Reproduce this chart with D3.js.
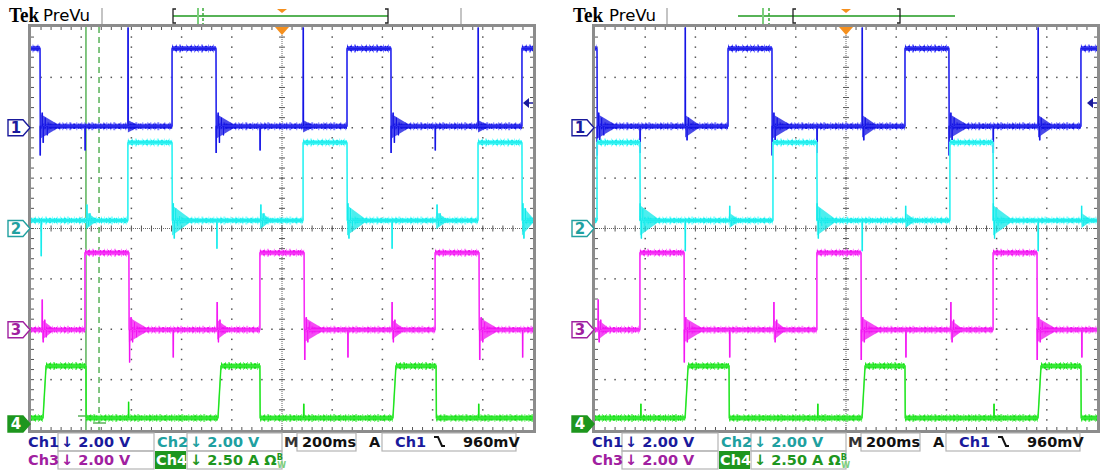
<!DOCTYPE html>
<html>
<head>
<meta charset="utf-8">
<script src="https://cdn.jsdelivr.net/npm/d3@7"></script>
<style>
body { margin: 0; background: #fff; }
svg { display: block; }
</style>
</head>
<body>
<div id="chart"></div>
<script>
// Channel settings (time in ms, 200 ms/div; levels in V, ch4 in A)
var channels = ["Ch1", "Ch2", "Ch3", "Ch4"];
var channelScale = ["2.00 V", "2.00 V", "2.00 V", "2.50 A"];
var perDiv = [2, 2, 2, 2.5];
var offsetDiv = [2.0, 0, -2.01, -3.88];
var lowLevel = [0.06, 0.32, 0, 0.3];
var highLevel = [3.15, 3.41, 3.06, 2.88];
var riseTime = [0, 0, 0, 12];
var timebase = "200ms";
var trigLevel = "960mV";

// Left capture: "on" intervals per channel
var leftOn = [
  [[-50, 36], [562, 737], [1259, 1434], [1956, 2050]],
  [[386, 562], [1084, 1259], [1781, 1956]],
  [[215, 390], [912, 1088], [1610, 1785]],
  [[48, 219], [745, 912], [1442, 1614]]
];
// Left capture: spikes [time, value]
var leftSpikes = [
  [[36, -1.1], [44, 0.6], [48, -0.6], [56, 0.4], [64, -0.3], [215, -0.9], [386, 3.98],
   [737, -1.0], [745, 0.6], [750, -0.6], [758, 0.4], [766, -0.3], [912, -0.9], [1084, 3.98],
   [1434, -1.0], [1442, 0.6], [1447, -0.6], [1455, 0.4], [1463, -0.3], [1610, -0.9], [1781, 3.98]],
  [[40, -1.1], [222, 0.95], [228, 0.1], [234, 0.6], [242, 0.2], [566, 1.0], [570, -0.4], [576, 0.8], [584, 0.1], [592, 0.5],
   [740, -0.8], [915, 0.95], [921, 0.1], [927, 0.6], [1262, 1.0], [1266, -0.4], [1272, 0.8], [1280, 0.1],
   [1438, -0.8], [1617, 0.95], [1623, 0.1], [1629, 0.6], [1959, 1.0], [1963, -0.4], [1969, 0.8]],
  [[44, 1.2], [48, -0.5], [54, 0.4], [60, -0.3], [392, -1.3], [398, 0.5], [404, -0.5], [412, 0.3], [420, -0.3],
   [566, -1.1], [741, 1.1], [746, -0.5], [752, 0.4], [1090, -1.2], [1096, 0.5], [1102, -0.5], [1110, 0.3],
   [1262, -1.1], [1438, 1.1], [1443, -0.5], [1449, 0.4], [1787, -1.2], [1793, 0.5], [1799, -0.5], [1807, 0.3], [1958, -1.1]],
  [[388, 1.1], [1086, 1.0], [1783, 1.0]]
];
// Left capture: ringing bursts [time, amplitude, duration]
var leftRing = [
  [[36, 0.5, 70], [737, 0.5, 70], [1434, 0.5, 70], [386, 0.25, 40], [1084, 0.25, 40], [1781, 0.25, 40]],
  [[562, 0.6, 70], [1259, 0.6, 70], [1956, 0.6, 44], [219, 0.35, 40], [912, 0.35, 40], [1614, 0.35, 40]],
  [[390, 0.5, 70], [1088, 0.5, 70], [1785, 0.5, 70], [44, 0.4, 44], [741, 0.4, 44], [1438, 0.4, 44]],
  []
];

// Right capture
var rightOn = [
  [[-50, 8], [530, 705], [1235, 1410], [1936, 2050]],
  [[8, 179], [709, 884], [1414, 1586]],
  [[179, 355], [884, 1060], [1586, 1761]],
  [[359, 534], [1064, 1235], [1765, 1936]]
];
var rightSpikes = [
  [[8, -1.1], [14, 0.6], [18, -0.6], [26, 0.4], [34, -0.3], [179, -1.0], [359, 3.98], [366, -0.5], [372, 0.4],
   [705, -1.1], [712, 0.6], [717, -0.6], [725, 0.4], [884, -1.0], [1064, 3.98], [1070, -0.5], [1076, 0.4],
   [1410, -1.1], [1417, 0.6], [1422, -0.6], [1430, 0.4], [1586, -1.0], [1765, 3.98], [1771, -0.5], [1777, 0.4]],
  [[179, 1.0], [184, -0.4], [190, 0.8], [198, 0.1], [359, -0.9], [536, 0.9], [542, 0.1],
   [884, 1.0], [889, -0.4], [895, 0.8], [903, 0.1], [1064, -0.9], [1237, 0.9], [1243, 0.1],
   [1586, 1.0], [1591, -0.4], [1597, 0.8], [1605, 0.1], [1765, -0.9], [1938, 0.9], [1944, 0.1]],
  [[12, 1.2], [16, -0.5], [22, 0.4], [355, -1.3], [361, 0.5], [367, -0.5], [375, 0.3], [536, -1.1],
   [712, 1.1], [717, -0.5], [723, 0.4], [1060, -1.2], [1066, 0.5], [1072, -0.5], [1080, 0.3], [1238, -1.1],
   [1417, 1.1], [1422, -0.5], [1428, 0.4], [1761, -1.2], [1767, 0.5], [1773, -0.5], [1781, 0.3], [1939, -1.1]],
  [[182, 1.0], [887, 1.0], [1589, 1.0]]
];
var rightRing = [
  [[8, 0.5, 70], [705, 0.5, 70], [1410, 0.5, 70], [359, 0.45, 55], [1064, 0.45, 55], [1765, 0.45, 55]],
  [[179, 0.6, 70], [884, 0.6, 70], [1586, 0.6, 70], [536, 0.3, 36], [1237, 0.3, 36], [1938, 0.3, 36]],
  [[355, 0.5, 70], [1060, 0.5, 70], [1761, 0.5, 70], [12, 0.4, 44], [712, 0.4, 44], [1417, 0.4, 44]],
  []
];

var traceColor = ["#1010e0", "#10e8e8", "#f010f0", "#10e010"];
var edgeColor = ["#6060ff", "#70ffff", "#ff70ff", "#60f060"];
var labelColor = ["#1a1a9c", "#20a0a0", "#a020a0", "#1e961e"];

var W = 1103, H = 473;
var svg = d3.select("#chart").append("svg").attr("width", W).attr("height", H)
  .style("font-family", "'DejaVu Sans', sans-serif");

var screens = [
  { x0: 31, on: leftOn, spikes: leftSpikes, ring: leftRing, tek: 9, prevu: 43, sep: [102, 461],
    bar: [173, 388], barLine: [173, 388], marks: [198, 203], cursors: true },
  { x0: 595, on: rightOn, spikes: rightSpikes, ring: rightRing, tek: 573, prevu: 609, sep: [667],
    bar: [793, 900], barLine: [738, 955], marks: [763, 769], cursors: false }
];

var plotW = 502, y0 = 27, y1 = 430;

screens.forEach(function (s, si) {
  var g = svg.append("g");
  var x = d3.scaleLinear().domain([0, 2000]).range([s.x0, s.x0 + plotW]);
  var yDiv = d3.scaleLinear().domain([-4, 4]).range([y1, y0]);
  var dx = plotW / 10, dy = (y1 - y0) / 8;

  // top bar
  g.append("text").attr("x", s.tek).attr("y", 22).text("Tek")
    .attr("textLength", 30).attr("lengthAdjust", "spacingAndGlyphs")
    .style("font-family", "'Liberation Serif', serif").style("font-weight", "bold")
    .style("font-size", "20px").attr("fill", "#000");
  g.append("text").attr("x", s.prevu).attr("y", 21).text("PreVu")
    .attr("textLength", 47).attr("lengthAdjust", "spacingAndGlyphs")
    .style("font-size", "16px").attr("fill", "#000");
  s.sep.forEach(function (sx) {
    g.append("line").attr("x1", sx).attr("x2", sx).attr("y1", 8).attr("y2", 25)
      .attr("stroke", "#c4c4c4").attr("stroke-width", 2);
  });
  g.append("line").attr("x1", s.barLine[0]).attr("x2", s.barLine[1]).attr("y1", 16).attr("y2", 16)
    .attr("stroke", "#1f9a1f").attr("stroke-width", 1.5);
  g.append("path").attr("d", "M" + (s.bar[0] + 3) + ",9 h-3 v14 h3").attr("fill", "none")
    .attr("stroke", "#222").attr("stroke-width", 1.3);
  g.append("path").attr("d", "M" + (s.bar[1] - 3) + ",9 h3 v14 h-3").attr("fill", "none")
    .attr("stroke", "#222").attr("stroke-width", 1.3);
  g.append("line").attr("x1", s.marks[0]).attr("x2", s.marks[0]).attr("y1", 8).attr("y2", 24)
    .attr("stroke", "#7ccf7c").attr("stroke-width", 2);
  g.append("line").attr("x1", s.marks[1]).attr("x2", s.marks[1]).attr("y1", 8).attr("y2", 24)
    .attr("stroke", "#3aaa3a").attr("stroke-width", 1.5).attr("stroke-dasharray", "3,2");
  var tx = x(1000);
  g.append("path").attr("d", "M" + (tx - 5) + ",9 L" + (tx + 5) + ",9 L" + tx + ",13 Z").attr("fill", "#f5901e");

  // graticule
  var grid = g.append("g");
  grid.append("rect").attr("x", s.x0 - 1.5).attr("y", y0 - 1.5).attr("width", plotW + 3).attr("height", y1 - y0 + 3)
    .attr("fill", "none").attr("stroke", "#8c8c8c").attr("stroke-width", 3);
  var i, k;
  for (i = 1; i < 10; i++) {
    if (i === 5) continue;
    for (k = 1; k < 40; k++) {
      grid.append("rect").attr("x", s.x0 + i * dx - 0.75).attr("y", y0 + k * dy / 5 - 0.75)
        .attr("width", 1.5).attr("height", 1.5).attr("fill", "#555");
    }
  }
  for (i = 1; i < 8; i++) {
    if (i === 4) continue;
    for (k = 1; k < 50; k++) {
      grid.append("rect").attr("x", s.x0 + k * dx / 5 - 0.75).attr("y", y0 + i * dy - 0.75)
        .attr("width", 1.5).attr("height", 1.5).attr("fill", "#555");
    }
  }
  // center lines with ticks
  var cx = s.x0 + 5 * dx, cy = y0 + 4 * dy;
  grid.append("line").attr("x1", cx).attr("x2", cx).attr("y1", y0).attr("y2", y1)
    .attr("stroke", "#666").attr("stroke-width", 1).attr("stroke-dasharray", "1,1");
  grid.append("line").attr("x1", s.x0).attr("x2", s.x0 + plotW).attr("y1", cy).attr("y2", cy)
    .attr("stroke", "#666").attr("stroke-width", 1).attr("stroke-dasharray", "1,1");
  for (k = 1; k < 40; k++) {
    grid.append("line").attr("x1", cx - 3).attr("x2", cx + 3).attr("y1", y0 + k * dy / 5).attr("y2", y0 + k * dy / 5)
      .attr("stroke", "#555").attr("stroke-width", 1);
  }
  for (k = 1; k < 50; k++) {
    grid.append("line").attr("x1", s.x0 + k * dx / 5).attr("x2", s.x0 + k * dx / 5).attr("y1", cy - 3).attr("y2", cy + 3)
      .attr("stroke", "#555").attr("stroke-width", 1);
  }
  // edge ticks
  for (k = 1; k < 50; k++) {
    var ex = s.x0 + k * dx / 5;
    grid.append("line").attr("x1", ex).attr("x2", ex).attr("y1", y0).attr("y2", y0 + 3).attr("stroke", "#555");
    grid.append("line").attr("x1", ex).attr("x2", ex).attr("y1", y1 - 3).attr("y2", y1).attr("stroke", "#555");
  }
  for (k = 1; k < 40; k++) {
    var ey = y0 + k * dy / 5;
    grid.append("line").attr("x1", s.x0).attr("x2", s.x0 + 3).attr("y1", ey).attr("y2", ey).attr("stroke", "#555");
    grid.append("line").attr("x1", s.x0 + plotW - 3).attr("x2", s.x0 + plotW).attr("y1", ey).attr("y2", ey).attr("stroke", "#555");
  }

  // clip
  var clipId = "clip" + si;
  g.append("clipPath").attr("id", clipId).append("rect")
    .attr("x", s.x0).attr("y", y0).attr("width", plotW).attr("height", y1 - y0);
  var plot = g.append("g").attr("clip-path", "url(#" + clipId + ")");

  // cursors (left capture)
  if (s.cursors) {
    plot.append("line").attr("x1", x(219)).attr("x2", x(219)).attr("y1", y0).attr("y2", y1)
      .attr("stroke", "#2f9f2f").attr("stroke-width", 1.2);
    plot.append("line").attr("x1", x(271)).attr("x2", x(271)).attr("y1", y0).attr("y2", y1)
      .attr("stroke", "#2f9f2f").attr("stroke-width", 1.2).attr("stroke-dasharray", "6,4");
    plot.append("line").attr("x1", x(219) - 8).attr("x2", x(219) + 7).attr("y1", 416).attr("y2", 416)
      .attr("stroke", "#2f9f2f").attr("stroke-width", 1.2);
    plot.append("line").attr("x1", x(271) - 6).attr("x2", x(271) + 7).attr("y1", 423).attr("y2", 423)
      .attr("stroke", "#2f9f2f").attr("stroke-width", 1.2);
  }

  // traces
  channels.forEach(function (ch, c) {
    var on = s.on[c], lo = lowLevel[c], hi = highLevel[c];
    var yv = function (v) { return yDiv(offsetDiv[c] + v / perDiv[c]); };
    var level = function (t) {
      for (var j = 0; j < on.length; j++) if (t >= on[j][0] && t <= on[j][1]) return hi;
      return lo;
    };
    var ev = [];
    on.forEach(function (iv) { ev.push({ t: iv[0], type: "up" }); ev.push({ t: iv[1], type: "down" }); });
    s.spikes[c].forEach(function (sp) { ev.push({ t: sp[0], type: "spike", v: sp[1] }); });
    ev.sort(function (a, b) { return a.t - b.t; });
    var pts = [[-60, level(-60)]];
    var flats = [], cur = level(-60), segStart = -60;
    ev.forEach(function (e) {
      if (e.type === "up") {
        pts.push([e.t, lo]); pts.push([e.t + riseTime[c], hi]);
        flats.push([segStart, e.t, lo]); segStart = e.t + riseTime[c]; cur = hi;
      } else if (e.type === "down") {
        pts.push([e.t, hi]); pts.push([e.t + 1, lo]);
        flats.push([segStart, e.t, hi]); segStart = e.t + 1; cur = lo;
      } else {
        pts.push([e.t, cur]); pts.push([e.t + 0.8, e.v]); pts.push([e.t + 1.6, cur]);
      }
    });
    pts.push([2060, cur]);
    flats.push([segStart, 2060, cur]);

    var line = d3.line().x(function (d) { return x(d[0]); }).y(function (d) { return yv(d[1]); });
    var flatLine = function (sel, color, width, dash, op) {
      sel.enter().append("line")
        .attr("x1", function (d) { return x(d[0]); }).attr("x2", function (d) { return x(d[1]); })
        .attr("y1", function (d) { return yv(d[2]); }).attr("y2", function (d) { return yv(d[2]); })
        .attr("stroke", color).attr("stroke-width", width)
        .attr("stroke-dasharray", dash).attr("opacity", op);
    };
    // noise fringe, band, core
    flatLine(plot.selectAll(".fr" + c).data(flats), edgeColor[c], 8, "1,3,1,2,2,5,1,4,1,2", 0.8);
    flatLine(plot.selectAll(".fl" + c).data(flats), edgeColor[c], 5, null, 1);
    flatLine(plot.selectAll(".co" + c).data(flats), traceColor[c], 3, null, 1);
    flatLine(plot.selectAll(".cd" + c).data(flats), traceColor[c], 5.5, "1,2,2,3,1,1,1,4", 0.9);

    // ringing bursts
    plot.selectAll(".ring" + c).data(s.ring[c]).enter().append("path")
      .attr("d", function (d) {
        var b = level(d[0] + 2);
        return "M" + x(d[0]) + "," + yv(b + d[1]) + " L" + x(d[0] + d[2]) + "," + yv(b + d[1] * 0.15) +
          " L" + x(d[0] + d[2]) + "," + yv(b - d[1] * 0.15) + " L" + x(d[0]) + "," + yv(b - d[1]) + " Z";
      })
      .attr("fill", traceColor[c]).attr("opacity", 0.75);

    plot.append("path").datum(pts).attr("d", line).attr("fill", "none")
      .attr("stroke", edgeColor[c]).attr("stroke-width", 1.6);
    plot.append("path").datum(pts).attr("d", line).attr("fill", "none")
      .attr("stroke", traceColor[c]).attr("stroke-width", 0.9);

    // channel marker
    var my = Math.min(yDiv(offsetDiv[c]), y1 - 6);
    var mk = g.append("g");
    var filled = c === 3;
    mk.append("path")
      .attr("d", "M" + (s.x0 - 23) + "," + (my - 8) + " h15 l7,8 l-7,8 h-15 Z")
      .attr("fill", filled ? labelColor[c] : "#fff").attr("stroke", labelColor[c]).attr("stroke-width", 1.4);
    mk.append("text").attr("x", s.x0 - 15).attr("y", my + 5.5).attr("text-anchor", "middle")
      .text(String(c + 1)).style("font-size", "15px").style("font-weight", "bold")
      .attr("fill", filled ? "#fff" : labelColor[c]);
  });

  // trigger level arrow
  var ty = 103;
  g.append("path").attr("d", "M" + (s.x0 + plotW - 10) + "," + ty + " l6,-5 v10 Z").attr("fill", labelColor[0]);
  g.append("line").attr("x1", s.x0 + plotW - 5).attr("x2", s.x0 + plotW).attr("y1", ty).attr("y2", ty)
    .attr("stroke", labelColor[0]).attr("stroke-width", 1.5);
  // trigger position marker
  g.append("path").attr("d", "M" + (tx - 7) + "," + y0 + " L" + (tx + 7) + "," + y0 + " L" + tx + "," + (y0 + 8) + " Z")
    .attr("fill", "#f5901e");

  // readouts
  var r = g.append("g").style("font-size", "14.5px").style("font-weight", "bold");
  var bx = function (a, b, top) {
    r.append("rect").attr("x", s.x0 + a).attr("y", top).attr("width", b - a).attr("height", 18)
      .attr("fill", "none").attr("stroke", "#b4b4b4").attr("stroke-width", 1.2);
  };
  var row1 = 447, row2 = 465;
  bx(27, 123, 433); bx(156, 251, 433); bx(266, 325, 433); bx(351, 485, 433);
  bx(27, 123, 451); bx(156, 251, 451);
  r.append("text").attr("x", s.x0 - 3).attr("y", row1).text(channels[0]).attr("fill", labelColor[0]);
  r.append("text").attr("x", s.x0 + 30).attr("y", row1).text("\u2193 " + channelScale[0]).attr("fill", labelColor[0]);
  r.append("text").attr("x", s.x0 + 126).attr("y", row1).text(channels[1]).attr("fill", labelColor[1]);
  r.append("text").attr("x", s.x0 + 159).attr("y", row1).text("\u2193 " + channelScale[1]).attr("fill", labelColor[1]);
  r.append("text").attr("x", s.x0 + 253).attr("y", row1).text("M").attr("fill", "#333");
  r.append("text").attr("x", s.x0 + 271).attr("y", row1).text(timebase).attr("fill", "#111");
  r.append("text").attr("x", s.x0 + 338).attr("y", row1).text("A").attr("fill", "#111");
  r.append("text").attr("x", s.x0 + 364).attr("y", row1).text(channels[0]).attr("fill", labelColor[0]);
  r.append("path").attr("d", "M" + (s.x0 + 403) + "," + (row1 - 10) + " h4 l4,9 h3").attr("fill", "none")
    .attr("stroke", "#111").attr("stroke-width", 2);
  r.append("text").attr("x", s.x0 + 432).attr("y", row1).text(trigLevel).attr("fill", "#111");
  r.append("text").attr("x", s.x0 - 3).attr("y", row2).text(channels[2]).attr("fill", labelColor[2]);
  r.append("text").attr("x", s.x0 + 30).attr("y", row2).text("\u2193 " + channelScale[2]).attr("fill", labelColor[2]);
  r.append("rect").attr("x", s.x0 + 124).attr("y", 451).attr("width", 31).attr("height", 18).attr("fill", labelColor[3]);
  r.append("text").attr("x", s.x0 + 125).attr("y", row2).text(channels[3]).attr("fill", "#fff");
  var t4 = r.append("text").attr("x", s.x0 + 159).attr("y", row2).attr("fill", labelColor[3]);
  t4.append("tspan").text("\u2193 " + channelScale[3] + " \u03A9");
  t4.append("tspan").attr("dy", -5).style("font-size", "8px").text("B");
  t4.append("tspan").attr("dx", -5).attr("dy", 8).style("font-size", "8px").attr("fill", "#7ccf7c").text("W");
});
</script>
</body>
</html>
